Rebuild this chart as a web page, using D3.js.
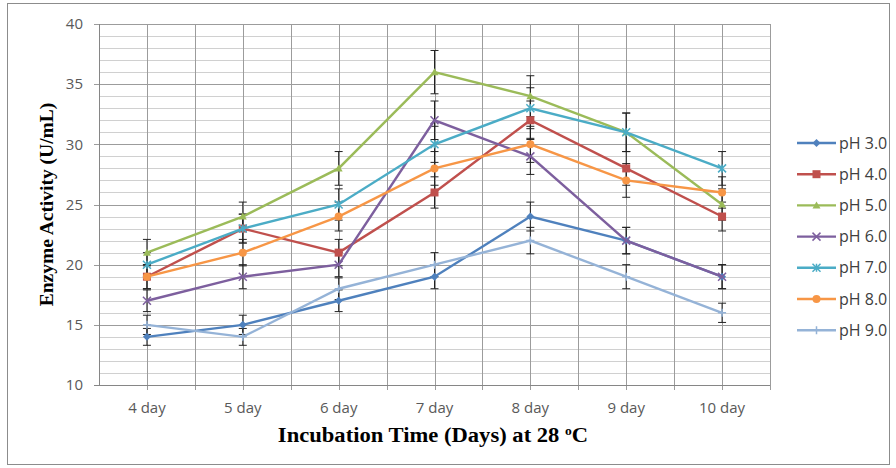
<!DOCTYPE html>
<html lang="en">
<head>
  <meta charset="UTF-8">
  <title>Enzyme Activity vs Incubation Time</title>
  <script src="https://d3js.org/d3.v7.min.js"></script>
  <style>
    body { margin: 0; background: #fff; }
    .tick text { fill: #595959; font-family: "Open Sans", sans-serif; font-size: 15px; }
  </style>
</head>
<body>
<script>
  // Data
  const days = ['4 day', '5 day', '6 day', '7 day', '8 day', '9 day', '10 day'];
  const yTicks = [10, 15, 20, 25, 30, 35, 40];
  const seriesNames = ['pH 3.0', 'pH 4.0', 'pH 5.0', 'pH 6.0', 'pH 7.0', 'pH 8.0', 'pH 9.0'];
  const ph3 = [14, 15, 17, 19, 24, 22, 19];
  const ph4 = [19, 23, 21, 26, 32, 28, 24];
  const ph5 = [21, 24, 28, 36, 34, 31, 25];
  const ph6 = [17, 19, 20, 32, 29, 22, 19];
  const ph7 = [20, 23, 25, 30, 33, 31, 28];
  const ph8 = [19, 21, 24, 28, 30, 27, 26];
  const ph9 = [15, 14, 18, 20, 22, 19, 16];
  const err3 = [0.7, 0.8, 0.9, 1.0, 1.2, 1.1, 1.0];
  const err4 = [1.0, 1.2, 1.1, 1.3, 1.6, 1.4, 1.2];
  const err5 = [1.1, 1.2, 1.4, 1.8, 1.7, 1.6, 1.3];
  const err6 = [0.9, 1.0, 1.0, 1.6, 1.5, 1.1, 1.0];
  const err7 = [1.0, 1.2, 1.3, 1.5, 1.7, 1.6, 1.4];
  const err8 = [1.0, 1.1, 1.2, 1.4, 1.5, 1.4, 1.3];
  const err9 = [0.8, 0.7, 0.9, 1.0, 1.1, 1.0, 0.8];

  const values = [ph3, ph4, ph5, ph6, ph7, ph8, ph9];
  const errors = [err3, err4, err5, err6, err7, err8, err9];
  const colors = ['#4F81BD', '#C0504D', '#9BBB59', '#7D5F9E', '#4BACC6', '#F79646', '#95B3D7'];
  const markers = ['diamond', 'square', 'triangle', 'x', 'star', 'circle', 'plus'];

  const W = 896, H = 468;
  const plot = {left: 99, right: 770, top: 24, bottom: 385};

  const svg = d3.select('body').append('svg')
    .attr('width', W)
    .attr('height', H);

  // outer chart border
  svg.append('rect')
    .attr('x', 7.5).attr('y', 3.5)
    .attr('width', 882).attr('height', 461)
    .attr('fill', '#fff')
    .attr('stroke', '#8c8c8c');

  const x = d3.scaleBand()
    .domain(days)
    .range([plot.left, plot.right]);

  const y = d3.scaleLinear()
    .domain([10, 40])
    .range([plot.bottom, plot.top]);

  const cx = d => x(d) + x.bandwidth() / 2;

  // minor horizontal grid (every 1 unit)
  svg.append('g').selectAll('line')
    .data(d3.range(11, 40).filter(v => v % 5 !== 0))
    .join('line')
    .attr('x1', plot.left).attr('x2', plot.right)
    .attr('y1', d => Math.round(y(d)) + 0.5).attr('y2', d => Math.round(y(d)) + 0.5)
    .attr('stroke', '#d0d0d0');

  // major horizontal grid
  svg.append('g').selectAll('line')
    .data(yTicks.slice(1))
    .join('line')
    .attr('x1', plot.left - 5).attr('x2', plot.right)
    .attr('y1', d => Math.round(y(d)) + 0.5).attr('y2', d => Math.round(y(d)) + 0.5)
    .attr('stroke', '#9c9c9c');

  // vertical grid: category centres and boundaries
  const vLines = days.map(d => cx(d)).concat(days.map(d => x(d)).slice(1), [plot.right]);
  svg.append('g').selectAll('line')
    .data(vLines)
    .join('line')
    .attr('x1', d => Math.round(d) + 0.5).attr('x2', d => Math.round(d) + 0.5)
    .attr('y1', plot.top).attr('y2', plot.bottom + 5)
    .attr('stroke', '#9c9c9c');

  // axes
  svg.append('line')
    .attr('x1', plot.left + 0.5).attr('x2', plot.left + 0.5)
    .attr('y1', plot.top).attr('y2', plot.bottom)
    .attr('stroke', '#868686');
  svg.append('line')
    .attr('x1', plot.left - 5).attr('x2', plot.right)
    .attr('y1', plot.bottom + 0.5).attr('y2', plot.bottom + 0.5)
    .attr('stroke', '#868686');

  const yAxis = svg.append('g')
    .attr('transform', `translate(${plot.left - 16},0)`)
    .call(d3.axisLeft(y).tickValues(yTicks).tickSize(0).tickPadding(0));
  yAxis.select('.domain').remove();

  const xAxis = svg.append('g')
    .attr('transform', `translate(0,${plot.bottom + 11})`)
    .call(d3.axisBottom(x).tickSize(0).tickPadding(6));
  xAxis.select('.domain').remove();

  // axis titles
  svg.append('text')
    .attr('transform', `translate(53,${(plot.top + plot.bottom) / 2}) rotate(-90)`)
    .attr('text-anchor', 'middle')
    .style('font', 'bold 19.5px "Liberation Serif", serif')
    .text('Enzyme Activity (U/mL)');

  const xt = svg.append('text')
    .attr('transform', 'translate(433,442) scale(1.13,1)')
    .attr('text-anchor', 'middle')
    .style('font', 'bold 20px "Liberation Serif", serif');
  xt.append('tspan').text('Incubation Time (Days) at 28 ');
  xt.append('tspan').attr('dy', -7).style('font-size', '12px').text('o');
  xt.append('tspan').attr('dy', 7).text('C');

  // marker drawing
  function drawMarker(g, type, color, px, py) {
    const s = 4;
    if (type === 'diamond') {
      g.append('path').attr('d', `M${px},${py - s}L${px + s},${py}L${px},${py + s}L${px - s},${py}Z`).attr('fill', color);
    } else if (type === 'square') {
      g.append('rect').attr('x', px - s).attr('y', py - s).attr('width', 2 * s).attr('height', 2 * s).attr('fill', color);
    } else if (type === 'triangle') {
      g.append('path').attr('d', `M${px},${py - s}L${px + s},${py + s - 1}L${px - s},${py + s - 1}Z`).attr('fill', color);
    } else if (type === 'circle') {
      g.append('circle').attr('cx', px).attr('cy', py).attr('r', s).attr('fill', color);
    } else {
      let d = '';
      if (type === 'x' || type === 'star') d += `M${px - s},${py - s}L${px + s},${py + s}M${px - s},${py + s}L${px + s},${py - s}`;
      if (type === 'star') d += `M${px},${py - s}L${px},${py + s}`;
      if (type === 'plus') d += `M${px - s},${py}L${px + s},${py}M${px},${py - s}L${px},${py + s}`;
      g.append('path').attr('d', d).attr('stroke', color).attr('stroke-width', 1.5).attr('fill', 'none');
    }
  }

  // error bars
  const eg = svg.append('g');
  values.forEach((vals, i) => {
    vals.forEach((v, j) => {
      const px = cx(days[j]);
      const e = errors[i][j];
      eg.append('path')
        .attr('d', `M${px},${y(v - e)}V${y(v + e)}M${px - 4},${y(v - e)}H${px + 4}M${px - 4},${y(v + e)}H${px + 4}`)
        .attr('stroke', '#222')
        .attr('stroke-width', 1)
        .attr('fill', 'none');
    });
  });

  // lines and markers
  const line = d3.line()
    .x((d, j) => cx(days[j]))
    .y(d => y(d));

  values.forEach((vals, i) => {
    const g = svg.append('g');
    g.append('path')
      .datum(vals)
      .attr('d', line)
      .attr('fill', 'none')
      .attr('stroke', colors[i])
      .attr('stroke-width', 2.4);
    vals.forEach((v, j) => drawMarker(g, markers[i], colors[i], cx(days[j]), y(v)));
  });

  // legend
  const legend = svg.append('g');
  seriesNames.forEach((name, i) => {
    const ly = 143 + i * 31.2;
    const g = legend.append('g');
    g.append('line')
      .attr('x1', 797).attr('x2', 836)
      .attr('y1', ly).attr('y2', ly)
      .attr('stroke', colors[i]).attr('stroke-width', 2.4);
    drawMarker(g, markers[i], colors[i], 816.5, ly);
    g.append('text')
      .attr('x', 839).attr('y', ly + 5.5)
      .style('font', '16px "Open Sans", sans-serif')
      .attr('fill', '#404040')
      .text(name);
  });
</script>
</body>
</html>
